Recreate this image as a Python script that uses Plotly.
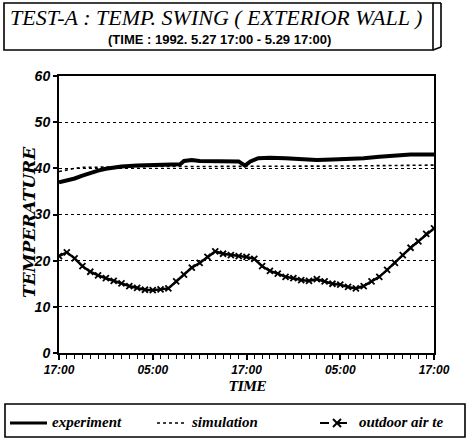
import plotly.graph_objects as go

# ---------------- data ----------------
hours = list(range(0, 49))
tick_hours = [0, 12, 24, 36, 48]
tick_labels = ["17:00", "05:00", "17:00", "05:00", "17:00"]

experiment_h = [0, 1, 2, 3, 4, 5, 6, 7, 8, 10, 12, 14, 15.5, 16, 17, 18, 20, 22, 23, 23.8,
                24.5, 25.5, 27, 29, 31, 33, 35, 37, 39, 41, 43, 45, 47, 48]
experiment_t = [37.0, 37.3, 37.8, 38.4, 39.0, 39.5, 39.9, 40.2, 40.4, 40.6, 40.7, 40.8, 40.9,
                41.6, 41.8, 41.6, 41.5, 41.6, 41.5, 40.6,
                41.5, 42.2, 42.3, 42.2, 42.0, 41.8, 41.9, 42.0, 42.2, 42.5, 42.8, 43.0, 43.0, 43.0]

simulation_h = [0, 1, 2, 3, 6, 12, 18, 24, 30, 36, 42, 48]
simulation_t = [39.3, 39.7, 40.0, 40.2, 40.3, 40.4, 40.4, 40.4, 40.5, 40.5, 40.6, 40.7]

outdoor_t = [21.0, 21.8, 20.5, 18.8, 17.6, 16.8, 16.2, 15.6, 15.1, 14.5, 14.1, 13.7, 13.6,
             13.8, 14.0, 15.5, 17.0, 18.5, 19.5, 20.8, 22.0, 21.5, 21.2, 21.0, 20.8, 20.4,
             18.8, 17.8, 17.2, 16.5, 16.2, 15.8, 15.6, 16.0, 15.5, 15.0, 14.8, 14.3, 14.0,
             14.5, 15.5, 16.5, 18.0, 19.5, 21.2, 22.8, 24.2, 25.8, 27.0]

# ---------------- layout helpers (pixel -> paper) ----------------
L, R, T, B = 59, 434, 76, 353          # plot area in pixels
W, H = 470, 441                        # figure size


def px(x):
    return (x - L) / (R - L)


def py(y):
    return (B - y) / (B - T)


SERIF = "Liberation Serif, Times New Roman, Times, serif"
SANS = "Liberation Sans, Arial, Helvetica, sans-serif"

fig = go.Figure()
fig.add_trace(go.Scatter(x=simulation_h, y=simulation_t, mode="lines", name="simulation",
                         line=dict(color="black", width=1.6, dash="dot"), showlegend=False))
fig.add_trace(go.Scatter(x=experiment_h, y=experiment_t, mode="lines", name="experiment",
                         line=dict(color="black", width=4), showlegend=False))
fig.add_trace(go.Scatter(x=hours, y=outdoor_t, mode="lines+markers", name="outdoor air te",
                         line=dict(color="black", width=2.5),
                         marker=dict(symbol="x-thin", size=6, line=dict(color="black", width=1.8)),
                         showlegend=False))

tickfont_x = dict(family=SANS, size=12, color="black", weight="bold", style="italic")
tickfont_y = dict(family=SANS, size=14, color="black", weight="bold", style="italic")

fig.update_xaxes(range=[0, 48], tickvals=tick_hours, ticktext=tick_labels, ticks="outside",
                 ticklen=5, tickwidth=1.5, tickcolor="black", showline=True, linecolor="black",
                 linewidth=2, mirror=True, showgrid=False, zeroline=False, tickfont=tickfont_x,
                 minor=dict(dtick=1, ticks="outside", ticklen=4, tickwidth=1.2, tickcolor="black"))
fig.update_yaxes(range=[0, 60], dtick=10, ticks="outside", ticklen=4, tickwidth=1.5,
                 tickcolor="black", showline=True, linecolor="black", linewidth=2, mirror=True,
                 showgrid=True, gridcolor="black", gridwidth=1, griddash="dot", zeroline=False,
                 tickfont=tickfont_y)

legfont = dict(family=SERIF, size=15, color="black", weight="bold", style="italic")

annotations = [
    dict(x=px(216), y=py(18), text="TEST-A : TEMP. SWING ( EXTERIOR WALL )",
         font=dict(family=SERIF, size=22, color="black", style="italic")),
    dict(x=px(219), y=py(40), text="(TIME : 1992. 5.27 17:00 - 5.29 17:00)",
         font=dict(family=SANS, size=13, color="black", weight="bold")),
    dict(x=px(29), y=py(222), text="TEMPERATURE", textangle=-90,
         font=dict(family="DejaVu Serif", size=17, color="black", weight="bold", style="italic")),
    dict(x=px(248), y=py(387), text="TIME",
         font=dict(family="DejaVu Serif", size=12, color="black", weight="bold", style="italic")),
    dict(x=px(50), y=py(422), text="experiment", xanchor="left", font=legfont),
    dict(x=px(189), y=py(422), text="simulation", xanchor="left", font=legfont),
    dict(x=px(357), y=py(422), text="outdoor air te", xanchor="left", font=legfont),
]
for a in annotations:
    a.setdefault("xref", "paper")
    a.setdefault("yref", "paper")
    a.setdefault("showarrow", False)
    a.setdefault("xanchor", "center")
    a.setdefault("yanchor", "middle")

shapes = [
    # title box with shadow on right
    dict(type="rect", x0=px(4), x1=px(433), y0=py(3), y1=py(50), line=dict(color="black", width=1.6)),
    dict(type="line", x0=px(441), x1=px(441), y0=py(3), y1=py(47), line=dict(color="black", width=1.6)),
    dict(type="line", x0=px(433), x1=px(441), y0=py(3), y1=py(3), line=dict(color="black", width=1.6)),
    dict(type="line", x0=px(433), x1=px(441), y0=py(50), y1=py(47), line=dict(color="black", width=1.6)),
    # legend box
    dict(type="rect", x0=px(5), x1=px(465), y0=py(404), y1=py(437), line=dict(color="black", width=1.6)),
    # legend samples
    dict(type="line", x0=px(10), x1=px(47), y0=py(423), y1=py(423), line=dict(color="black", width=3)),
    dict(type="line", x0=px(157), x1=px(187), y0=py(423), y1=py(423),
         line=dict(color="black", width=1.6, dash="dot")),
    dict(type="line", x0=px(320), x1=px(353), y0=py(423), y1=py(423),
         line=dict(color="black", width=2, dash="dash")),
    dict(type="line", x0=px(333), x1=px(341), y0=py(419), y1=py(427), line=dict(color="black", width=2)),
    dict(type="line", x0=px(333), x1=px(341), y0=py(427), y1=py(419), line=dict(color="black", width=2)),
]
for s in shapes:
    s["xref"] = "paper"
    s["yref"] = "paper"

fig.update_layout(width=W, height=H, autosize=False,
                  margin=dict(l=L, r=W - R, t=T, b=H - B, pad=0),
                  paper_bgcolor="white", plot_bgcolor="white",
                  annotations=annotations, shapes=shapes, showlegend=False)

fig.write_html("out.html", config={"displayModeBar": False},
               post_script="document.body.style.margin='0';document.body.style.overflow='hidden';")
